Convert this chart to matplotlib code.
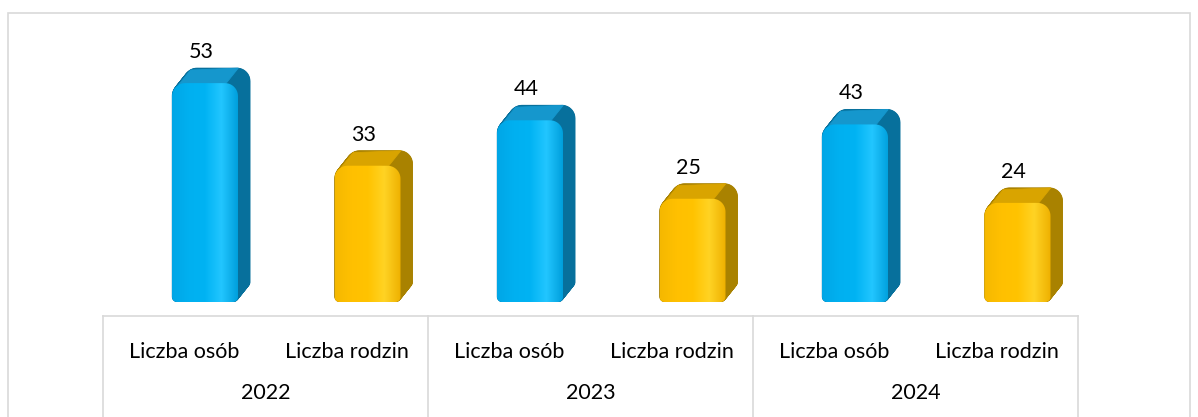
import numpy as np
import matplotlib
matplotlib.use("Agg")
import matplotlib.pyplot as plt
from matplotlib.path import Path
from matplotlib.patches import PathPatch, Polygon, Rectangle
from matplotlib.lines import Line2D
from matplotlib.colors import LinearSegmentedColormap
import matplotlib.transforms as mtransforms

# ---- data ----
years = ["2022", "2023", "2024"]
categories = ["Liczba osób", "Liczba rodzin"]
osoby = [53, 44, 43]
rodziny = [33, 25, 24]

plt.rcParams['font.family'] = ['Lato', 'DejaVu Sans']

W, H = 1198, 417
fig = plt.figure(figsize=(W / 100, H / 100), dpi=100)

# layout in pixels (image coordinates, y from top)
ax_l, ax_r = 103, 1078
ax_top, ax_base = 20, 302
px_per_unit_y = 4.13
nslots = len(years) * len(categories)
ymax = (ax_base - ax_top) / px_per_unit_y

ax = fig.add_axes([ax_l / W, (H - ax_base) / H, (ax_r - ax_l) / W, (ax_base - ax_top) / H])
ax.set_xlim(0, nslots)
ax.set_ylim(0, ymax)
ax.axis('off')

ppx = (ax_r - ax_l) / nslots   # px per x unit
ppy = px_per_unit_y            # px per y unit

def rounded_path(x0, x1, h, rt, rb):
    """Rounded rectangle in data coords, radii given in pixels."""
    rtx, rty = rt / ppx, rt / ppy
    rbx, rby = rb / ppx, rb / ppy
    pts = []
    n = 14
    for a in np.linspace(np.pi, 1.5 * np.pi, n):
        pts.append((x0 + rbx + rbx * np.cos(a), rby + rby * np.sin(a)))
    for a in np.linspace(1.5 * np.pi, 2 * np.pi, n):
        pts.append((x1 - rbx + rbx * np.cos(a), rby + rby * np.sin(a)))
    for a in np.linspace(0, 0.5 * np.pi, n):
        pts.append((x1 - rtx + rtx * np.cos(a), h - rty + rty * np.sin(a)))
    for a in np.linspace(0.5 * np.pi, np.pi, n):
        pts.append((x0 + rtx + rtx * np.cos(a), h - rty + rty * np.sin(a)))
    pts.append(pts[0])
    return np.array(pts)

styles = [
    dict(front=["#00a6e6", "#00b0f0", "#00b3f3", "#22c6ff", "#009fdc"],
         side="#07709c", top="#1597cd"),
    dict(front=["#f5b800", "#ffc000", "#ffc300", "#ffd324", "#eeb000"],
         side="#a98200", top="#d9a400"),
]

off_l = 69 / ppx
bw = 66 / ppx
dx, dy = 12 / ppx, 15 / ppy
rt, rb = 13, 5

series = [osoby, rodziny]
for g in range(len(years)):
    for c in range(len(categories)):
        s = g * len(categories) + c
        v = series[c][g]
        st = styles[c]
        x0 = s + off_l
        x1 = x0 + bw
        base = rounded_path(x0, x1, v, rt, rb)
        # extrusion (side)
        for t in np.linspace(1, 0.02, 40):
            sh = base + np.array([dx * t, dy * t])
            ax.add_patch(Polygon(sh, closed=True, facecolor=st['side'], edgecolor=st['side'],
                                 lw=0.6, zorder=2))
        # top face
        rtx, rty = rt / ppx, rt / ppy
        top = [(x0 + rtx * 0.5, v - rty * 0.15), (x0 + rtx * 0.5 + dx, v - rty * 0.15 + dy),
               (x1 - rtx * 0.9 + dx, v + dy), (x1 - rtx * 0.9, v)]
        ax.add_patch(Polygon(top, closed=True, facecolor=st['top'], edgecolor=st['top'],
                             lw=0.6, zorder=3))
        # front face with gradient
        patch = PathPatch(Path(base), facecolor='none', edgecolor='none', zorder=4)
        ax.add_patch(patch)
        cmap = LinearSegmentedColormap.from_list('g', st['front'])
        grad = np.linspace(0, 1, 256).reshape(1, -1)
        im = ax.imshow(grad, extent=(x0, x1, 0, v + 0.5), aspect='auto', cmap=cmap,
                       origin='lower', zorder=4, interpolation='bilinear')
        im.set_clip_path(patch)
        # value label
        ax.annotate(str(v), xy=((x0 + x1) / 2, v), xytext=(-4, 31), textcoords='offset pixels',
                    ha='center', va='center', fontsize=15.5, color='#000000', zorder=6)

ax.set_xlim(0, nslots)
ax.set_ylim(0, ymax)

# category table below
grid_col = "#d9d9d9"
tbl_top = 316
fig.add_artist(Line2D([ax_l / W, ax_r / W], [(H - tbl_top) / H] * 2, color=grid_col, lw=1.2))
for g in range(len(years) + 1):
    xp = ax_l + g * len(categories) * ppx
    fig.add_artist(Line2D([xp / W] * 2, [(H - tbl_top) / H, -0.02], color=grid_col, lw=1.2))

trans = mtransforms.blended_transform_factory(ax.transData, fig.transFigure)
for g, yr in enumerate(years):
    for c, cat in enumerate(categories):
        s = g * len(categories) + c
        ax.text(s + 0.5, (H - 352) / H, cat, transform=trans, ha='center', va='center',
                fontsize=15.5, color='#000000', clip_on=False)
    ax.text(g * len(categories) + len(categories) / 2, (H - 393) / H, yr, transform=trans,
            ha='center', va='center', fontsize=15.5, color='#000000', clip_on=False)

# chart border
fig.add_artist(Rectangle((8 / W, -0.05), (1190 - 8) / W, (H - 13) / H + 0.05,
                         transform=fig.transFigure, fill=False, edgecolor=grid_col, lw=1.2))

fig.savefig("out.png", dpi=100, facecolor='white')
